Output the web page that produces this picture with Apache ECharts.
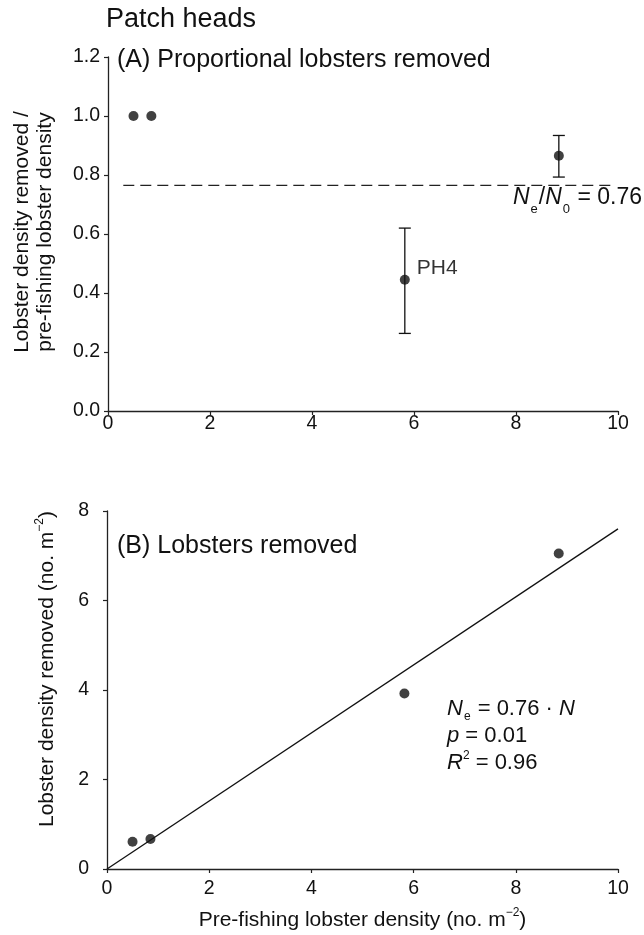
<!DOCTYPE html>
<html>
<head>
<meta charset="utf-8">
<script src="https://cdn.jsdelivr.net/npm/echarts@6/dist/echarts.min.js"></script>
<style>
html,body{margin:0;padding:0;background:#fff;}
#c{width:644px;height:935px;}
</style>
</head>
<body>
<div id="c"></div>
<script>
// ---- data ----
var xTicks = [0, 2, 4, 6, 8, 10];
var topYTicks = [0, 0.2, 0.4, 0.6, 0.8, 1.0, 1.2];
var botYTicks = [0, 2, 4, 6, 8];

var densityPre = [0.50, 0.85, 5.82, 8.84];          // pre-fishing lobster density
var propRemoved = [1.00, 1.00, 0.445, 0.865];       // proportion removed
var propLow = [null, null, 0.263, 0.793];
var propHigh = [null, null, 0.620, 0.934];
var removedDensity = [0.61, 0.67, 3.92, 7.05];      // lobster density removed
var ratioLine = 0.765;                              // Ne/N0
var ratioLineX = [0.3, 9.9];
var fitSlope = 0.76;
var fitX = [0, 10];

var FONT = '"Liberation Sans", Arial, Helvetica, sans-serif';
var INK = '#111';

var topPts = densityPre.map(function (x, i) { return [x, propRemoved[i]]; });
var errPts = [];
densityPre.forEach(function (x, i) {
  if (propLow[i] !== null) errPts.push([x, propLow[i], propHigh[i]]);
});
var botPts = densityPre.map(function (x, i) { return [x, removedDensity[i]]; });
var fitPts = fitX.map(function (x) { return [x, fitSlope * x]; });
var dashPts = ratioLineX.map(function (x) { return [x, ratioLine]; });

function xAxisCfg(gi, margin, name) {
  return {
    gridIndex: gi, type: 'value', min: xTicks[0], max: xTicks[xTicks.length - 1], interval: xTicks[1] - xTicks[0],
    axisLine: { show: true, onZero: false, lineStyle: { color: '#222', width: 1.3 } },
    axisTick: { show: true, inside: false, length: 4, lineStyle: { color: '#222', width: 1.2 } },
    axisLabel: { color: INK, fontSize: 19.5, fontFamily: FONT, margin: margin },
    splitLine: { show: false },
    name: name || '',
    nameLocation: 'middle', nameGap: 38,
    nameTextStyle: {
      color: INK, fontSize: 21, fontFamily: FONT,
      rich: {
        n: { fontSize: 21, fontFamily: FONT, color: INK, lineHeight: 24, verticalAlign: 'bottom' },
        sup: { fontSize: 12, fontFamily: FONT, color: INK, lineHeight: 24, verticalAlign: 'top' }
      }
    }
  };
}
function yAxisCfg(gi, ticks, decimals, margin) {
  return {
    gridIndex: gi, type: 'value', min: ticks[0], max: ticks[ticks.length - 1], interval: ticks[1] - ticks[0],
    axisLine: { show: true, onZero: false, lineStyle: { color: '#222', width: 1.3 } },
    axisTick: { show: true, inside: false, length: 4, lineStyle: { color: '#222', width: 1.2 } },
    axisLabel: {
      color: INK, fontSize: 19.5, fontFamily: FONT, margin: margin,
      formatter: function (v) { return decimals ? v.toFixed(decimals) : String(v); }
    },
    splitLine: { show: false }
  };
}

var chart = echarts.init(document.getElementById('c'), null, { renderer: 'canvas' });

var option = {
  backgroundColor: '#fff',
  animation: false,
  grid: [
    { left: 108, right: 26, top: 57, height: 354, containLabel: false, outerBoundsMode: 'none' },
    { left: 107, right: 26, top: 511, height: 358, containLabel: false, outerBoundsMode: 'none' }
  ],
  xAxis: [xAxisCfg(0, 3), xAxisCfg(1, 10, '{n|Pre-fishing lobster density (no. m}{sup|\u22122}{n|)}')],
  yAxis: [yAxisCfg(0, topYTicks, 1, 8), yAxisCfg(1, botYTicks, 0, 18)],
  series: [
    {
      type: 'line', xAxisIndex: 0, yAxisIndex: 0, data: dashPts,
      symbol: 'none', lineStyle: { color: '#222', width: 1.1, type: [11, 6] }, z: 1
    },
    {
      type: 'custom', xAxisIndex: 0, yAxisIndex: 0, data: errPts, z: 2,
      renderItem: function (params, api) {
        var x = api.value(0);
        var lo = api.coord([x, api.value(1)]);
        var hi = api.coord([x, api.value(2)]);
        var cap = 6;
        var st = { stroke: INK, lineWidth: 1.3 };
        return {
          type: 'group', children: [
            { type: 'line', shape: { x1: lo[0], y1: lo[1], x2: hi[0], y2: hi[1] }, style: st },
            { type: 'line', shape: { x1: lo[0] - cap, y1: lo[1], x2: lo[0] + cap, y2: lo[1] }, style: st },
            { type: 'line', shape: { x1: hi[0] - cap, y1: hi[1], x2: hi[0] + cap, y2: hi[1] }, style: st }
          ]
        };
      }
    },
    {
      type: 'scatter', xAxisIndex: 0, yAxisIndex: 0, data: topPts, z: 3,
      symbol: 'circle', symbolSize: 10, itemStyle: { color: INK },
      label: {
        show: true, position: 'right', distance: 7, offset: [0, -12], color: '#000', fontSize: 21, fontFamily: FONT,
        formatter: function (p) { return p.dataIndex === 2 ? 'PH4' : ''; }
      }
    },
    {
      type: 'line', xAxisIndex: 1, yAxisIndex: 1, data: fitPts,
      symbol: 'none', lineStyle: { color: INK, width: 1.3 }, z: 1
    },
    {
      type: 'scatter', xAxisIndex: 1, yAxisIndex: 1, data: botPts, z: 3,
      symbol: 'circle', symbolSize: 10, itemStyle: { color: INK }
    }
  ],
  graphic: [
    { type: 'text', left: 106, top: 6, style: { text: 'Patch heads', fill: INK, font: '27px ' + FONT } },
    { type: 'text', left: 117, top: 48, style: { text: '(A) Proportional lobsters removed', fill: INK, font: '25px ' + FONT } },
    { type: 'text', left: 117, top: 534, style: { text: '(B) Lobsters removed', fill: INK, font: '25px ' + FONT } },
    {
      type: 'text', x: 22, y: 232, rotation: Math.PI / 2,
      style: { text: 'Lobster density removed /', fill: INK, font: '21px ' + FONT, align: 'center', verticalAlign: 'middle' }
    },
    {
      type: 'text', x: 45, y: 232, rotation: Math.PI / 2,
      style: { text: 'pre-fishing lobster density', fill: INK, font: '21px ' + FONT, align: 'center', verticalAlign: 'middle' }
    },
    {
      type: 'text', x: 46, y: 669, rotation: Math.PI / 2,
      style: {
        text: '{n|Lobster density removed (no. m}{sup|\u22122}{n|)}', align: 'center', verticalAlign: 'middle',
        rich: {
          n: { fontSize: 21, fontFamily: FONT, fill: INK, lineHeight: 24, verticalAlign: 'bottom' },
          sup: { fontSize: 12, fontFamily: FONT, fill: INK, lineHeight: 24, verticalAlign: 'top' }
        }
      }
    },
    {
      type: 'text', left: 513, top: 186,
      style: {
        text: '{i|N}{sub|e}{n|/}{i|N}{sub|0}{n| = 0.76}',
        rich: {
          i: { fontSize: 23, fontFamily: FONT, fontStyle: 'italic', fill: INK, lineHeight: 30, verticalAlign: 'top' },
          n: { fontSize: 23, fontFamily: FONT, fill: INK, lineHeight: 30, verticalAlign: 'top' },
          sub: { fontSize: 13, fontFamily: FONT, fill: INK, lineHeight: 30, verticalAlign: 'bottom', padding: [0, 1, 0, 1] }
        }
      }
    },
    {
      type: 'text', left: 447, top: 698,
      style: {
        text: '{i|N}{sub|e}{n| = 0.76 · }{i|N}\n{i|p}{n| = 0.01}\n{i|R}{sup|2}{n| = 0.96}',
        rich: {
          i: { fontSize: 22, fontFamily: FONT, fontStyle: 'italic', fill: INK, lineHeight: 27, verticalAlign: 'middle' },
          n: { fontSize: 22, fontFamily: FONT, fill: INK, lineHeight: 27, verticalAlign: 'middle' },
          sub: { fontSize: 12, fontFamily: FONT, fill: INK, lineHeight: 27, verticalAlign: 'bottom', padding: [0, 1, 0, 1] },
          sup: { fontSize: 12, fontFamily: FONT, fill: INK, lineHeight: 27, verticalAlign: 'top' }
        }
      }
    }
  ]
};
chart.setOption(option);
</script>
</body>
</html>
